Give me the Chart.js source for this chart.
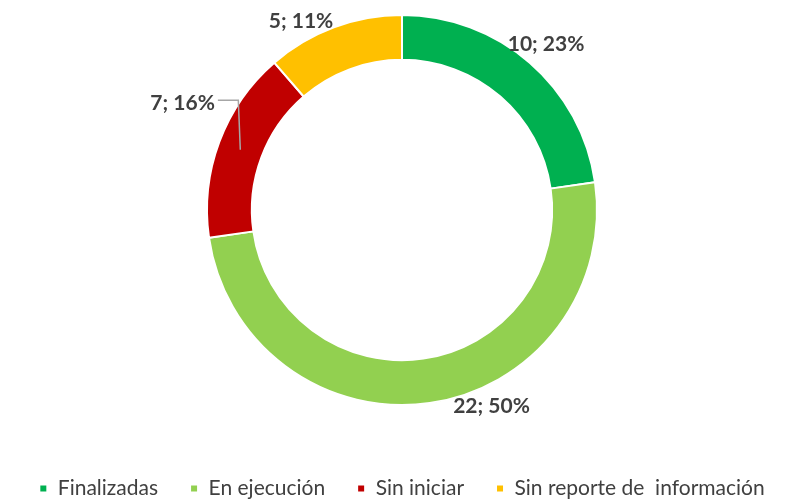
<!DOCTYPE html>
<html>
<head>
<meta charset="utf-8">
<script src="https://cdn.jsdelivr.net/npm/chart.js@4/dist/chart.umd.min.js"></script>
<style>
    html, body { margin: 0; padding: 0; background: #ffffff; overflow: hidden; }
    #wrap { width: 800px; height: 502px; overflow: hidden; }
</style>
</head>
<body>
<div id="wrap"><canvas id="donut" width="800" height="509"></canvas></div>
<script>
const categories = ['Finalizadas', 'En ejecución', 'Sin iniciar', 'Sin reporte de  información'];
const values = [10, 22, 7, 5];
const percents = [23, 50, 16, 11];
const colors = ['#00B050', '#92D050', '#C00000', '#FFC000'];

// label placement relative to each slice (degrees shift, px beyond outer edge)
const labelShift = [0, -16.3, 5.5, -7.7];
const labelGap = [25, 21, 49, 19];
const leaderLine = [false, false, true, false];

const donutLabels = {
    id: 'donutLabels',
    afterDatasetsDraw(chart) {
        const ctx = chart.ctx;
        const arcs = chart.getDatasetMeta(0).data;
        ctx.save();
        ctx.font = 'bold 21px Lato';
        ctx.fillStyle = '#404040';
        ctx.textAlign = 'center';
        ctx.textBaseline = 'middle';
        arcs.forEach((arc, i) => {
            const mid = (arc.startAngle + arc.endAngle) / 2;
            const ang = mid + labelShift[i] * Math.PI / 180;
            const r = arc.outerRadius + labelGap[i];
            const x = arc.x + Math.cos(ang) * r;
            const y = arc.y + Math.sin(ang) * r;
            const text = values[i] + '; ' + percents[i] + '%';
            ctx.fillText(text, x, y);

            if (leaderLine[i]) {
                const w = ctx.measureText(text).width;
                const rm = (arc.innerRadius + arc.outerRadius) / 2;
                const ex = arc.x + Math.cos(mid) * rm;
                const ey = arc.y + Math.sin(mid) * rm;
                ctx.beginPath();
                ctx.strokeStyle = '#A6A6A6';
                ctx.lineWidth = 1.5;
                ctx.moveTo(x + w / 2 + 3, y - 3);
                ctx.lineTo(ex - 2, y - 3);
                ctx.lineTo(ex, ey);
                ctx.stroke();
            }
        });
        ctx.restore();
    }
};

new Chart(document.getElementById('donut'), {
    type: 'doughnut',
    data: {
        labels: categories,
        datasets: [{
            data: values,
            backgroundColor: colors,
            borderColor: '#ffffff',
            borderWidth: 2
        }]
    },
    options: {
        responsive: false,
        animation: false,
        cutout: '77%',
        layout: {
            padding: { top: 14, left: 4 }
        },
        plugins: {
            legend: {
                position: 'bottom',
                title: {
                    display: true,
                    text: ' ',
                    font: { size: 1 },
                    padding: 19.4
                },
                labels: {
                    boxWidth: 8,
                    boxHeight: 8,
                    padding: 32,
                    color: '#404040',
                    font: { family: 'Lato', size: 21 }
                }
            },
            tooltip: { enabled: false }
        }
    },
    plugins: [donutLabels]
});
</script>
</body>
</html>
